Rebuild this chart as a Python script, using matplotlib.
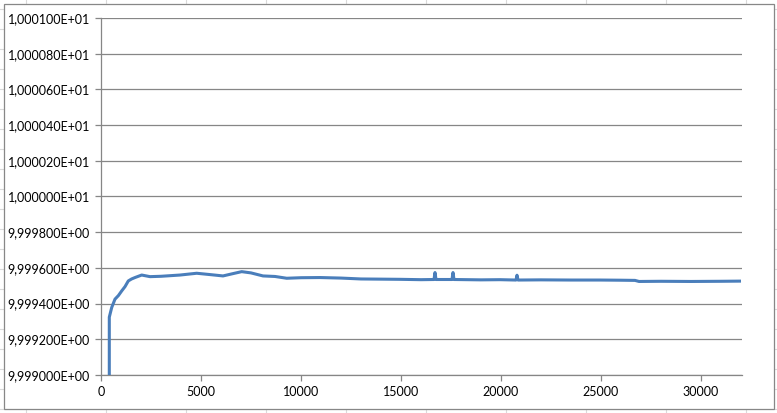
import matplotlib.pyplot as plt
from matplotlib.patches import Rectangle
from matplotlib.lines import Line2D
from matplotlib.ticker import FuncFormatter, MultipleLocator

# Dados #######################################################################

iteracao = [415, 415, 535, 700, 870, 1035, 1200, 1365, 1530, 1700, 2035, 2450,
            3000, 3950, 4785, 5500, 6100, 6600, 7035, 7500, 8100, 8700, 9285,
            10000, 10950, 12000, 13000, 14000, 14950, 16000, 16650, 16700,
            16750, 17550, 17600, 17650, 19000, 19950, 20750, 20800, 20850,
            22000, 23500, 24950, 26000, 26700, 26900, 28000, 29500, 31000, 32000]

valor = [9.998500, 9.999324, 9.999378, 9.999425, 9.999445, 9.999471, 9.999495,
         9.999527, 9.999538, 9.999546, 9.999560, 9.999551, 9.999553, 9.999560,
         9.999570, 9.999562, 9.999555, 9.999568, 9.999579, 9.999572, 9.999555,
         9.999552, 9.999542, 9.999545, 9.999546, 9.999543, 9.999538, 9.999537,
         9.999536, 9.999534, 9.999535, 9.999574, 9.999535, 9.999535, 9.999574,
         9.999535, 9.999533, 9.999534, 9.999532, 9.999559, 9.999532, 9.999533,
         9.999532, 9.999532, 9.999531, 9.999530, 9.999524, 9.999525, 9.999524,
         9.999525, 9.999526]

# Figura ######################################################################

W, H = 777, 413
fig = plt.figure(figsize=(W / 100, H / 100), dpi=100)
fig.patch.set_facecolor("white")

# linhas da planilha atras do grafico
cor_cel = "#dadada"
for xc in range(26, W, 80):
    fig.add_artist(Line2D([xc / W, xc / W], [0, 1], color=cor_cel, lw=0.8, zorder=0))
for yc in range(9, H, 20):
    fig.add_artist(Line2D([0, 1], [1 - yc / H, 1 - yc / H], color=cor_cel, lw=0.8, zorder=0))

# area do grafico
fig.add_artist(Rectangle((3.5 / W, 1 - 408.5 / H), 770 / W, 405 / H,
                         facecolor="white", edgecolor="#878787", lw=0.9, zorder=1))

ax = fig.add_axes([101 / W, 1 - 375 / H, 641 / W, 357 / H], zorder=2)
ax.set_facecolor("none")

ax.plot(iteracao, valor, color="#4a7ebb", lw=2.2, solid_joinstyle="round",
        solid_capstyle="butt", zorder=3)

ax.set_xlim(0, 32050)
ax.set_ylim(9.999, 10.001)
ax.xaxis.set_major_locator(MultipleLocator(5000))
ax.yaxis.set_major_locator(MultipleLocator(0.0002))
ax.yaxis.set_major_formatter(FuncFormatter(lambda v, p: f"{v:.6E}".replace(".", ",")))
ax.xaxis.set_major_formatter(FuncFormatter(lambda v, p: f"{int(round(v))}"))

ax.grid(axis="y", color="#868686", lw=0.9)
ax.set_axisbelow(True)
for s in ["top", "right"]:
    ax.spines[s].set_visible(False)
for s in ["left", "bottom"]:
    ax.spines[s].set_color("#868686")
    ax.spines[s].set_linewidth(0.9)

ax.tick_params(direction="out", length=4, width=0.9, color="#868686",
               labelsize=9, labelcolor="black", pad=4)
for lab in ax.get_xticklabels() + ax.get_yticklabels():
    lab.set_family(["Lato", "DejaVu Sans"])

fig.savefig("out.png", dpi=100)
